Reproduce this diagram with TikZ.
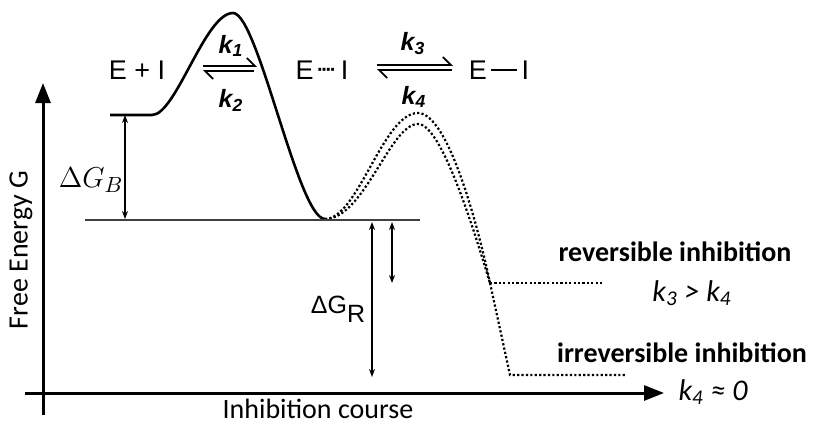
\documentclass[tikz,border=0pt]{standalone}
\usepackage{fontspec}
\setmainfont{Liberation Sans}
\newfontfamily\calfont{Carlito}
\usetikzlibrary{arrows.meta}

\begin{document}
\begin{tikzpicture}[
		% one unit = one pixel of the sketch, y runs downwards
		x=0.5pt, y=-0.5pt,
		axis/.style={line width=1.5pt, -{Triangle[length=10pt, width=7.5pt]}},
		gap/.style={line width=0.7pt, {Stealth[length=4pt, width=3pt]}-{Stealth[length=4pt, width=3pt]}},
		fwd/.style={line width=0.9pt, -{Straight Barb[left, length=4pt]}},
		rate/.style={font=\fontsize{12.5}{14}\selectfont\bfseries\itshape},
		species/.style={font=\fontsize{13.5}{16}\selectfont},
		note/.style={font=\calfont\fontsize{14}{17}\selectfont},
		path/.style={line width=1.3pt},
		ghost/.style={line width=1.1pt, dash pattern=on 1.1pt off 1.1pt}
		]
		\useasboundingbox (0,0) rectangle (813,423);
		
		% ==========================================
		% 1. Axes
		% ==========================================
		\coordinate (yfoot) at (43,415);
		\coordinate (ytip) at (43,83);
		\coordinate (xfoot) at (25,393);
		\coordinate (xtip) at (664,393);
		\draw[axis] (yfoot) -- (ytip);
		\draw[axis] (xfoot) -- (xtip);
		
		\node[note, rotate=90] (ylab) at (21,250) {Free Energy G};
		\node[note] (xlab) at (318,409) {Inhibition course};
		
		% ==========================================
		% 2. The species and the rate constants
		% ==========================================
		\node[species] (free) at (137,70) {E + I};
		\node[species] (loose) at (322,70) {E\,\raisebox{0.12em}{\bfseries\fontsize{10}{10}\selectfont\kern-0.05em·\kern-0.12em·\kern-0.12em·\kern-0.12em·}\,I};
		\node[species] (bound) at (499,70) {E\,\raisebox{0.3em}{\rule{0.95em}{1pt}}\,I};
		
		\node[rate] (k1) at (231,46) {k\textsubscript{1}};
		\node[rate] (k2) at (231,100) {k\textsubscript{2}};
		\node[rate] (k3) at (413,44) {k\textsubscript{3}};
		\node[rate] (k4) at (414,97) {k\textsubscript{4}};
		
		\coordinate (a1) at (203,66);
		\coordinate (b1) at (257,66);
		\coordinate (a2) at (203,71);
		\coordinate (b2) at (254,71);
		\draw[fwd] (a1) -- (b1);
		\draw[fwd] (b2) -- (a2);
		
		\coordinate (a3) at (377,65);
		\coordinate (b3) at (453,65);
		\coordinate (a4) at (377,70);
		\coordinate (b4) at (452,70);
		\draw[fwd] (a3) -- (b3);
		\draw[fwd] (b4) -- (a4);
		
		% ==========================================
		% 3. The energy path
		% ==========================================
		\coordinate (start) at (110,115);
		\coordinate (rise) at (152,115);
		\coordinate (peak) at (233,13);
		\coordinate (well) at (325,219);
		\draw[path] (start) -- (rise) .. controls (176,115) and (205,13) .. (peak)
		.. controls (258,13) and (298,219) .. (well);
		
		% Second barrier, drawn twice
		\coordinate (split) at (490,283);
		\coordinate (deep) at (510,375);
		\draw[ghost] (well) .. controls (358,219) and (383,113) .. (418,113)
		.. controls (448,113) and (478,226) .. (split);
		\draw[ghost] (well) .. controls (364,219) and (390,124) .. (418,124)
		.. controls (442,124) and (475,234) .. (split);
		
		% The two outcomes
		\coordinate (revend) at (603,283);
		\coordinate (irrend) at (627,375);
		\draw[ghost] (split) -- (revend);
		\draw[ghost] (split) -- (deep) -- (irrend);
		
		% ==========================================
		% 4. Reference level and the energy gaps
		% ==========================================
		\coordinate (lvlL) at (85,220);
		\coordinate (lvlR) at (420,220);
		\draw[line width=0.8pt, black!75] (lvlL) -- (lvlR);
		
		\coordinate (gbtop) at (125,115);
		\coordinate (gbbot) at (125,219);
		\draw[gap] (gbtop) -- (gbbot);
		\node[font=\fontsize{15}{17}\selectfont] (dgb) at (91,180) {$\Delta G_B$};
		
		\coordinate (grtop) at (372,222);
		\coordinate (grbot) at (372,377);
		\draw[gap] (grtop) -- (grbot);
		\coordinate (smtop) at (392,222);
		\coordinate (smbot) at (392,283);
		\draw[gap] (smtop) -- (smbot);
		\node[font=\fontsize{12.5}{14}\selectfont] (dgr) at (338,309) {ΔG\raisebox{-0.35em}{R}};
		
		% ==========================================
		% 5. Outcome labels
		% ==========================================
		\node[note, font=\calfont\bfseries\fontsize{14}{17}\selectfont] (rev) at (675,252) {reversible inhibition};
		\node[note, font=\calfont\itshape\fontsize{15}{17}\selectfont] (revk) at (692,293) {k\textsubscript{3} > k\textsubscript{4}};
		\node[note, font=\calfont\bfseries\fontsize{14}{17}\selectfont] (irr) at (682,353) {irreversible inhibition};
		\node[note, font=\calfont\itshape\fontsize{15}{17}\selectfont] (irrk) at (713,392) {k\textsubscript{4} ≈ 0};
		
	\end{tikzpicture}
\end{document}
